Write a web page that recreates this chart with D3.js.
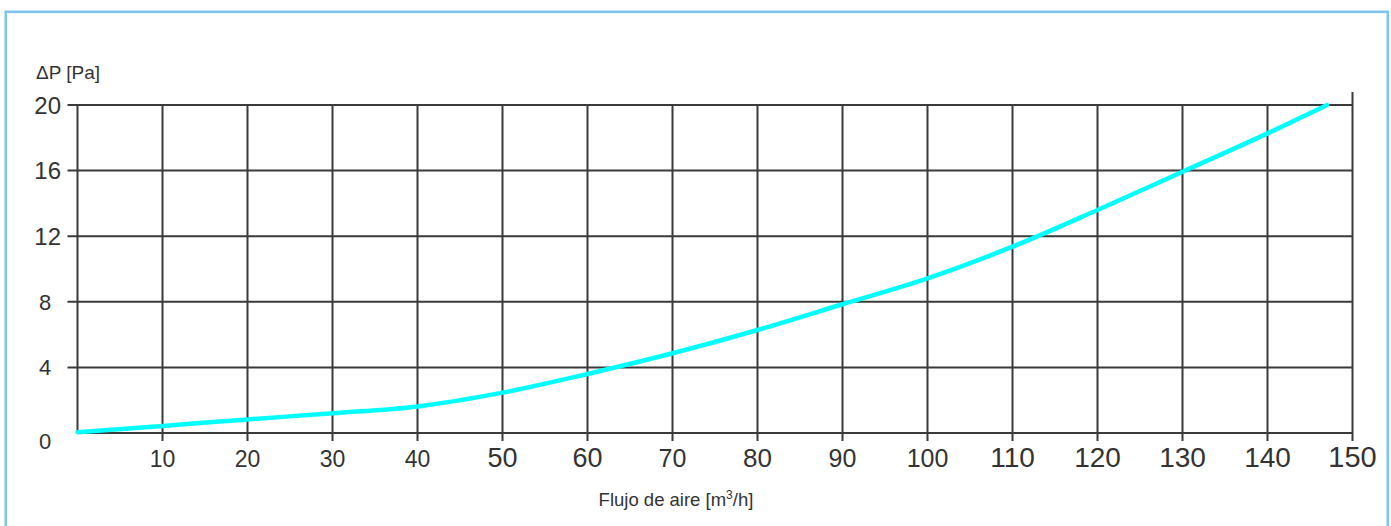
<!DOCTYPE html>
<html>
<head>
<meta charset="utf-8">
<script src="https://cdn.jsdelivr.net/npm/d3@7"></script>
<style>
  html, body { margin: 0; padding: 0; background: #fff; }
  svg { display: block; }
  text { font-family: "Liberation Sans", Arial, sans-serif; fill: #333; }
</style>
</head>
<body>
<svg id="chart" width="1391" height="526"></svg>
<script>
// ---- data ----
const flow = [0, 10, 20, 30, 40, 50, 60, 70, 80, 90, 100, 110, 120, 130, 140, 147];
const pressure = [0.05, 0.43, 0.83, 1.2, 1.62, 2.46, 3.6, 4.86, 6.28, 7.85, 9.43, 11.36, 13.6, 15.93, 18.27, 20];
const xTicks = [10, 20, 30, 40, 50, 60, 70, 80, 90, 100, 110, 120, 130, 140, 150];
const xTickSizes = [23, 23, 23, 23, 27, 27, 25, 26, 25, 25, 28, 28, 28, 28, 29];
const yTicks = [0, 4, 8, 12, 16, 20];
const xTitle = "Flujo de aire [m";
const yTitle = "ΔP [Pa]";

// ---- layout ----
const svg = d3.select("#chart");
const x = d3.scaleLinear().domain([0, 150]).range([77.5, 1352.5]);
const y = d3.scaleLinear().domain([0, 20]).range([433, 105]);
const gridColor = "#3a3a3a";

// frame
svg.append("rect")
  .attr("x", 5.8).attr("y", 11.8)
  .attr("width", 1382).attr("height", 540)
  .attr("fill", "none").attr("stroke", "#7fc3ee").attr("stroke-width", 2.6);

const g = svg.append("g");

// horizontal grid + y ticks
g.selectAll("line.h").data(yTicks).join("line")
  .attr("class", "h")
  .attr("x1", d => d === 0 ? x(0) : x(0) - 10)
  .attr("x2", x(150))
  .attr("y1", d => y(d)).attr("y2", d => y(d))
  .attr("stroke", gridColor).attr("stroke-width", 2);

// vertical grid + x ticks
g.selectAll("line.v").data([0].concat(xTicks)).join("line")
  .attr("class", "v")
  .attr("x1", d => x(d)).attr("x2", d => x(d))
  .attr("y1", d => d === 150 ? y(20) - 13 : y(20))
  .attr("y2", d => d === 0 ? y(0) : y(0) + 8)
  .attr("stroke", gridColor).attr("stroke-width", 2);

// x tick labels
g.selectAll("text.xt").data(xTicks).join("text")
  .attr("class", "xt")
  .attr("x", d => x(d))
  .attr("y", 467)
  .attr("text-anchor", "middle")
  .style("font-size", (d, i) => xTickSizes[i] + "px")
  .text(d => d);

// y tick labels
g.selectAll("text.yt").data(yTicks).join("text")
  .attr("class", "yt")
  .attr("x", d => String(d).length > 1 ? 61 : 45)
  .attr("y", d => y(d) + (d === 0 ? 8 : 0))
  .attr("dy", "0.36em")
  .attr("text-anchor", d => String(d).length > 1 ? "end" : "middle")
  .style("font-size", d => (String(d).length > 1 ? 24 : 22) + "px")
  .text(d => d);

// axis titles
svg.append("text")
  .attr("x", 36).attr("y", 79)
  .style("font-size", "19px")
  .text(yTitle);

const xt = svg.append("text")
  .attr("x", 676).attr("y", 506)
  .attr("text-anchor", "middle")
  .style("font-size", "18.5px");
xt.append("tspan").text(xTitle);
xt.append("tspan").attr("dy", -7).style("font-size", "12px").text("3");
xt.append("tspan").attr("dy", 7).text("/h]");

// curve
const line = d3.line()
  .x((d, i) => x(flow[i]))
  .y((d, i) => y(pressure[i]))
  .curve(d3.curveMonotoneX);

svg.append("path")
  .datum(pressure)
  .attr("d", line)
  .attr("fill", "none")
  .attr("stroke", "#00ffff")
  .attr("stroke-width", 4.5)
  .attr("stroke-linecap", "round");
</script>
</body>
</html>
